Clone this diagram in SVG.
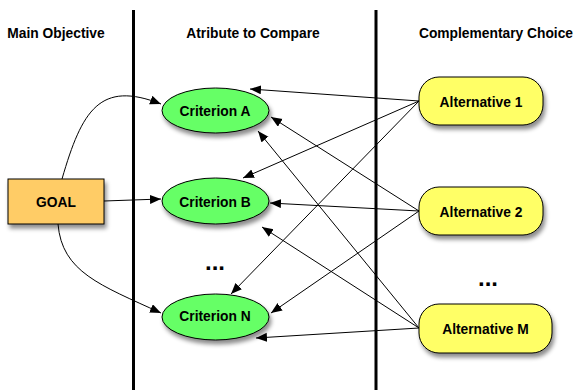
<svg xmlns="http://www.w3.org/2000/svg" width="574" height="390" viewBox="0 0 574 390">
  <defs>
    <filter id="shadow" x="-20%" y="-20%" width="150%" height="160%">
      <feDropShadow dx="2" dy="4" stdDeviation="2.2" flood-color="#000" flood-opacity="0.45"/>
    </filter>
    <marker id="arrow" markerUnits="userSpaceOnUse" markerWidth="12" markerHeight="10" refX="11" refY="4.5" orient="auto">
      <path d="M0,0 L11,4.5 L0,9 Z" fill="#000"/>
    </marker>
  </defs>
  <style>
    text { font-family: "Liberation Sans", Arial, sans-serif; font-weight: bold; fill: #000; text-anchor: middle; }
    .head { font-size: 13.8px; }
    .label { font-size: 13.8px; }
    .dots { font-size: 24px; }
    .lane { stroke: #000; stroke-width: 3; }
    .edge { fill: none; stroke: #000; stroke-width: 1; marker-end: url(#arrow); }
    .crit { fill: #66ff66; stroke: #000; stroke-width: 1; }
    .alt { fill: #ffff66; stroke: #000; stroke-width: 1; }
    .goal { fill: #ffcc66; stroke: #000; stroke-width: 1; }
  </style>

  <!-- lane separators -->
  <g id="lanes">
    <line class="lane" x1="133.5" y1="10" x2="133.5" y2="390"/>
    <line class="lane" x1="376" y1="10" x2="376" y2="390"/>
  </g>

  <!-- column headings -->
  <g id="headings">
    <text class="head" x="56" y="38">Main Objective</text>
    <text class="head" x="253" y="38">Atribute to Compare</text>
    <text class="head" x="496" y="38">Complementary Choice</text>
  </g>

  <!-- connectors -->
  <g id="connectors">
    <path class="edge" d="M62,179 C82,110 100,80 161,104"/>
    <path class="edge" d="M104,201 L161,199"/>
    <path class="edge" d="M58,224 C62,272 100,285 161,313"/>

    <path class="edge" d="M419,101 L250,89"/>
    <path class="edge" d="M419,101 L243,178"/>
    <path class="edge" d="M419,101 L231,294"/>

    <path class="edge" d="M419,211 L271,117"/>
    <path class="edge" d="M419,211 L270,203"/>
    <path class="edge" d="M419,211 L271,313"/>

    <path class="edge" d="M419,328 L258,131"/>
    <path class="edge" d="M419,328 L262,227"/>
    <path class="edge" d="M419,328 L256,338"/>
  </g>

  <!-- goal -->
  <g id="goal">
    <rect class="goal" x="8" y="179" width="96" height="45" filter="url(#shadow)"/>
    <text class="label" x="56" y="207">GOAL</text>
  </g>

  <!-- criteria -->
  <g id="criterion-a">
    <ellipse class="crit" cx="215.5" cy="110.5" rx="53.5" ry="22.5" filter="url(#shadow)"/>
    <text class="label" x="215" y="115.5">Criterion A</text>
  </g>
  <g id="criterion-b">
    <ellipse class="crit" cx="215.5" cy="201" rx="53.5" ry="23" filter="url(#shadow)"/>
    <text class="label" x="215" y="207">Criterion B</text>
  </g>
  <g id="criterion-n">
    <ellipse class="crit" cx="215.5" cy="317" rx="53.5" ry="23" filter="url(#shadow)"/>
    <text class="label" x="215" y="321">Criterion N</text>
  </g>
  <g id="criteria-more">
    <text class="dots" x="215" y="270">...</text>
  </g>

  <!-- alternatives -->
  <g id="alternative-1">
    <rect class="alt" x="419" y="77" width="124" height="48" rx="20" ry="20" filter="url(#shadow)"/>
    <text class="label" x="481" y="106.5">Alternative 1</text>
  </g>
  <g id="alternative-2">
    <rect class="alt" x="419" y="187" width="124" height="48" rx="20" ry="20" filter="url(#shadow)"/>
    <text class="label" x="481" y="216.5">Alternative 2</text>
  </g>
  <g id="alternatives-more">
    <text class="dots" x="488" y="286">...</text>
  </g>
  <g id="alternative-m">
    <rect class="alt" x="419" y="304" width="133" height="49" rx="20" ry="20" filter="url(#shadow)"/>
    <text class="label" x="485.5" y="333.5">Alternative M</text>
  </g>
</svg>
